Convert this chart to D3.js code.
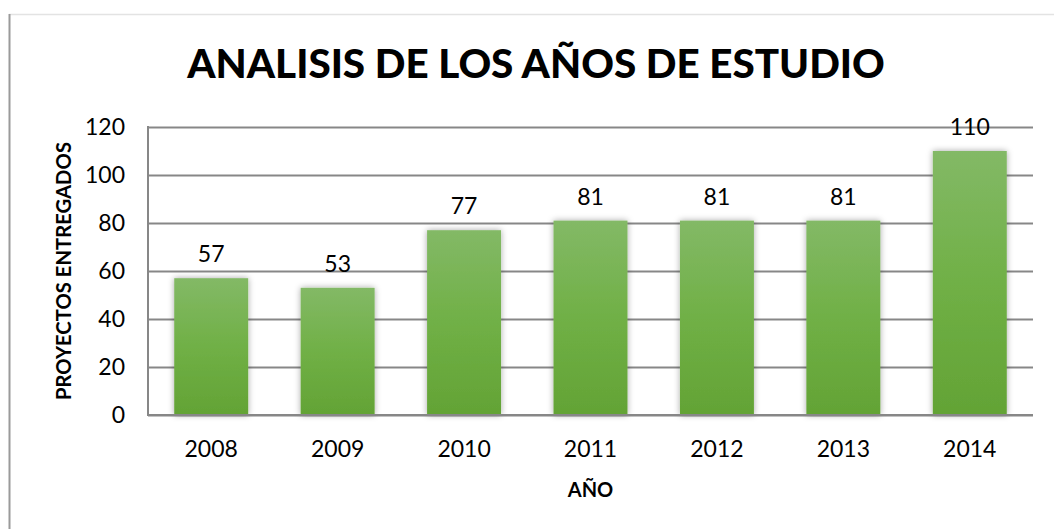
<!DOCTYPE html>
<head>
  <meta charset="utf-8">
  <script src="https://d3js.org/d3.v7.min.js"></script>
  <style>
    body { margin: 0; background: #fff; }
    text { font-family: Lato, "Open Sans", sans-serif; fill: #000; }
    .grid line { stroke: #878787; stroke-width: 2; }
    .grid path { display: none; }
    .y path, .y line { display: none; }
    .x path, .x line { display: none; }
  </style>
</head>
<body>
<script>
  var years = ["2008", "2009", "2010", "2011", "2012", "2013", "2014"];
  var proyectos = [57, 53, 77, 81, 81, 81, 110];
  var yTicks = [0, 20, 40, 60, 80, 100, 120];

  var W = 1054, H = 529;
  var margin = {top: 127, right: 21, bottom: 114, left: 148};
  var width = W - margin.left - margin.right;
  var height = H - margin.top - margin.bottom;

  var svg = d3.select("body").append("svg")
      .attr("width", W)
      .attr("height", H);

  var defs = svg.append("defs");
  var grad = defs.append("linearGradient")
      .attr("id", "barGrad")
      .attr("x1", 0).attr("y1", 0).attr("x2", 0).attr("y2", 1);
  grad.append("stop").attr("offset", "0%").attr("stop-color", "#83b966");
  grad.append("stop").attr("offset", "50%").attr("stop-color", "#70b046");
  grad.append("stop").attr("offset", "100%").attr("stop-color", "#63a335");

  var shadow = defs.append("filter").attr("id", "shadow")
      .attr("x", "-20%").attr("y", "-5%").attr("width", "140%").attr("height", "110%");
  shadow.append("feDropShadow")
      .attr("dx", 0).attr("dy", 0).attr("stdDeviation", 3)
      .attr("flood-color", "#000").attr("flood-opacity", 0.35);

  // chart border (only left and top are visible in the crop)
  svg.append("line").attr("x1", 9).attr("x2", W).attr("y1", 14.5).attr("y2", 14.5)
      .attr("stroke", "#e3e3e3").attr("stroke-width", 1.5);
  svg.append("line").attr("x1", 9.5).attr("x2", 9.5).attr("y1", 14).attr("y2", H)
      .attr("stroke", "#9a9a9a").attr("stroke-width", 2);

  var g = svg.append("g")
      .attr("transform", "translate(" + margin.left + "," + margin.top + ")");

  var x = d3.scaleBand()
      .domain(years)
      .range([0, width])
      .paddingInner(0.415)
      .paddingOuter(0.2075);

  var y = d3.scaleLinear()
      .domain([0, 120])
      .range([height, 0]);

  // gridlines
  g.append("g")
      .attr("class", "grid")
      .call(d3.axisLeft(y).tickValues(yTicks).tickSize(-width).tickFormat(""));

  // vertical axis line
  g.append("line")
      .attr("x1", 0).attr("x2", 0).attr("y1", -1).attr("y2", height + 1)
      .attr("stroke", "#878787").attr("stroke-width", 2);

  // bars
  g.selectAll(".bar")
      .data(proyectos)
    .enter().append("rect")
      .attr("class", "bar")
      .attr("x", function(d, i) { return x(years[i]); })
      .attr("width", x.bandwidth())
      .attr("y", function(d) { return y(d); })
      .attr("height", function(d) { return height - y(d); })
      .attr("fill", "url(#barGrad)")
      .attr("filter", "url(#shadow)");

  // baseline drawn over bars
  g.append("line")
      .attr("x1", -1).attr("x2", width).attr("y1", height).attr("y2", height)
      .attr("stroke", "#878787").attr("stroke-width", 2);

  // value labels
  g.selectAll(".label")
      .data(proyectos)
    .enter().append("text")
      .attr("class", "label")
      .attr("x", function(d, i) { return x(years[i]) + x.bandwidth() / 2; })
      .attr("y", function(d) { return y(d) - 24; })
      .attr("dy", "0.35em")
      .attr("text-anchor", "middle")
      .style("font-size", "23px")
      .text(function(d) { return d; });

  // y axis labels
  g.append("g")
      .attr("class", "y axis")
      .call(d3.axisLeft(y).tickValues(yTicks).tickSize(0).tickPadding(23))
      .selectAll("text")
        .style("font-size", "23px")
        .attr("font-family", null);

  // x axis labels
  g.append("g")
      .attr("class", "x axis")
      .attr("transform", "translate(0," + height + ")")
      .call(d3.axisBottom(x).tickSize(0).tickPadding(26))
      .selectAll("text")
        .style("font-size", "23px")
        .attr("font-family", null);

  g.selectAll(".axis text").attr("fill", "#000");

  // title, sized to the width it has in the original
  var title = svg.append("text")
      .attr("x", 536)
      .attr("y", 78)
      .attr("text-anchor", "middle")
      .style("font-weight", "900")
      .style("font-size", "40px")
      .text("ANALISIS DE LOS AÑOS DE ESTUDIO");
  var tw = title.node().getComputedTextLength();
  title.style("font-size", (40 * 698 / tw) + "px");

  // axis titles
  var yTitle = svg.append("text")
      .attr("transform", "translate(71," + (margin.top + height / 2) + ") rotate(-90)")
      .attr("text-anchor", "middle")
      .style("font-weight", "bold")
      .style("font-size", "20px")
      .text("PROYECTOS  ENTREGADOS");
  var yw = yTitle.node().getComputedTextLength();
  yTitle.style("font-size", (20 * 258 / yw) + "px");

  svg.append("text")
      .attr("x", margin.left + width / 2)
      .attr("y", 497)
      .attr("text-anchor", "middle")
      .style("font-weight", "bold")
      .style("font-size", "20px")
      .text("AÑO");
</script>
</body>
